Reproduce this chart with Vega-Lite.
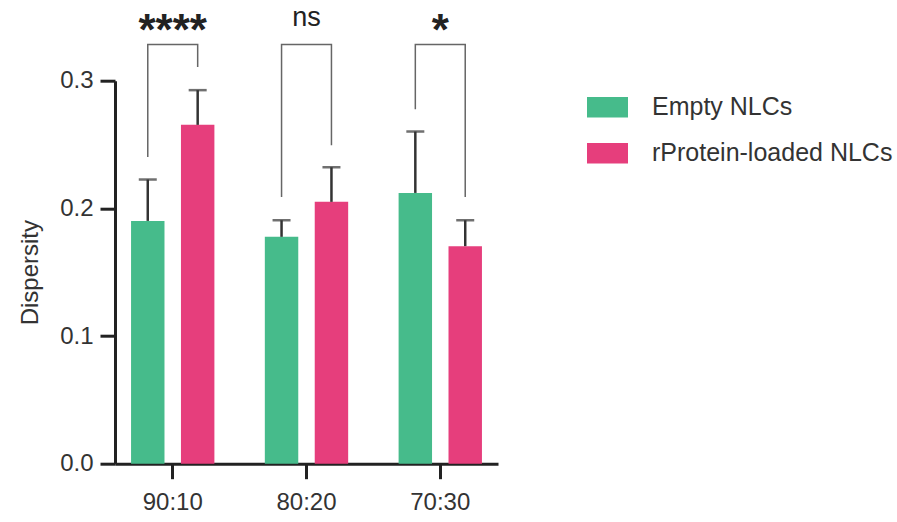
{
  "$schema": "https://vega.github.io/schema/vega-lite/v6.json",
  "width": 383,
  "height": 383,
  "autosize": {"type": "none"},
  "padding": {"left": 115, "top": 80.7, "right": 399, "bottom": 58.3},
  "background": "white",
  "config": {
    "view": {"stroke": null},
    "font": "Liberation Sans",
    "axis": {
      "domainColor": "#222",
      "domainWidth": 3,
      "tickColor": "#222",
      "tickWidth": 3,
      "tickSize": 15,
      "labelFont": "Liberation Sans",
      "labelFontSize": 24,
      "labelColor": "#333",
      "titleFont": "Liberation Sans",
      "titleFontSize": 24,
      "titleFontWeight": "normal",
      "titleColor": "#333",
      "grid": false
    }
  },
  "datasets": {
    "bars": [
      {"ratio": "90:10", "group": "Empty NLCs", "value": 0.1902, "upper": 0.2226},
      {"ratio": "90:10", "group": "rProtein-loaded NLCs", "value": 0.2654, "upper": 0.2926},
      {"ratio": "80:20", "group": "Empty NLCs", "value": 0.1777, "upper": 0.1907},
      {"ratio": "80:20", "group": "rProtein-loaded NLCs", "value": 0.2051, "upper": 0.2322},
      {"ratio": "70:30", "group": "Empty NLCs", "value": 0.2121, "upper": 0.2602},
      {"ratio": "70:30", "group": "rProtein-loaded NLCs", "value": 0.1704, "upper": 0.1907}
    ],
    "brackets": [
      {"ratio": "90:10", "group": "Empty NLCs", "y": 0.2403, "ord": 1},
      {"ratio": "90:10", "group": "Empty NLCs", "y": 0.3283, "ord": 2},
      {"ratio": "90:10", "group": "rProtein-loaded NLCs", "y": 0.3283, "ord": 3},
      {"ratio": "90:10", "group": "rProtein-loaded NLCs", "y": 0.3108, "ord": 4},
      {"ratio": "80:20", "group": "Empty NLCs", "y": 0.209, "ord": 1},
      {"ratio": "80:20", "group": "Empty NLCs", "y": 0.3283, "ord": 2},
      {"ratio": "80:20", "group": "rProtein-loaded NLCs", "y": 0.3283, "ord": 3},
      {"ratio": "80:20", "group": "rProtein-loaded NLCs", "y": 0.2495, "ord": 4},
      {"ratio": "70:30", "group": "Empty NLCs", "y": 0.2777, "ord": 1},
      {"ratio": "70:30", "group": "Empty NLCs", "y": 0.3283, "ord": 2},
      {"ratio": "70:30", "group": "rProtein-loaded NLCs", "y": 0.3283, "ord": 3},
      {"ratio": "70:30", "group": "rProtein-loaded NLCs", "y": 0.209, "ord": 4}
    ],
    "stars": [
      {"ratio": "90:10", "label": "****", "y": 0.3283},
      {"ratio": "70:30", "label": "*", "y": 0.3283}
    ],
    "ns": [
      {"ratio": "80:20", "label": "ns", "y": 0.3283}
    ]
  },
  "encoding": {
    "x": {
      "field": "ratio",
      "type": "nominal",
      "sort": ["90:10", "80:20", "70:30"],
      "scale": {"paddingInner": 0.377, "paddingOuter": 0.12},
      "axis": {"title": null, "labelAngle": 0, "labelPadding": 12}
    }
  },
  "layer": [
    {
      "data": {"name": "bars"},
      "mark": {"type": "bar"},
      "encoding": {
        "xOffset": {"field": "group", "type": "nominal", "scale": {"paddingInner": 0.33, "paddingOuter": 0}},
        "y": {
          "field": "value",
          "type": "quantitative",
          "scale": {"domain": [0, 0.3], "nice": false, "zero": true},
          "axis": {"title": "Dispersity", "values": [0, 0.1, 0.2, 0.3], "format": ".1f", "labelPadding": 7, "titleX": -85, "titleBaseline": "middle"}
        },
        "color": {
          "field": "group",
          "type": "nominal",
          "scale": {"domain": ["Empty NLCs", "rProtein-loaded NLCs"], "range": ["#46bb8b", "#e63e7c"]},
          "legend": {
            "title": null,
            "orient": "none",
            "legendX": 472,
            "legendY": 6,
            "padding": 0,
            "symbolType": "M-1,-0.5H1V0.5H-1Z",
            "symbolSize": 1681,
            "symbolStrokeWidth": 0,
            "labelFont": "Liberation Sans",
            "labelFontSize": 25,
            "labelColor": "#333",
            "labelOffset": 24,
            "labelLimit": 400,
            "rowPadding": 12
          }
        }
      }
    },
    {
      "data": {"name": "bars"},
      "mark": {"type": "rule", "color": "#333", "strokeWidth": 2.5},
      "encoding": {
        "xOffset": {"field": "group", "type": "nominal"},
        "y": {"field": "value", "type": "quantitative"},
        "y2": {"field": "upper"}
      }
    },
    {
      "data": {"name": "bars"},
      "mark": {"type": "tick", "color": "#333", "size": 18, "thickness": 2.5, "orient": "horizontal"},
      "encoding": {
        "xOffset": {"field": "group", "type": "nominal"},
        "y": {"field": "upper", "type": "quantitative"}
      }
    },
    {
      "data": {"name": "brackets"},
      "mark": {"type": "line", "color": "#666", "strokeWidth": 1.5},
      "encoding": {
        "xOffset": {"field": "group", "type": "nominal"},
        "y": {"field": "y", "type": "quantitative"},
        "detail": {"field": "ratio"},
        "order": {"field": "ord", "type": "quantitative"}
      }
    },
    {
      "data": {"name": "stars"},
      "mark": {"type": "text", "font": "Liberation Sans", "fontWeight": "bold", "fontSize": 44, "color": "#222", "baseline": "alphabetic"},
      "encoding": {
        "y": {"field": "y", "type": "quantitative"},
        "text": {"field": "label"}
      }
    },
    {
      "data": {"name": "ns"},
      "mark": {"type": "text", "font": "Liberation Sans", "fontSize": 27, "color": "#222", "baseline": "alphabetic", "dy": -19},
      "encoding": {
        "y": {"field": "y", "type": "quantitative"},
        "text": {"field": "label"}
      }
    }
  ]
}
